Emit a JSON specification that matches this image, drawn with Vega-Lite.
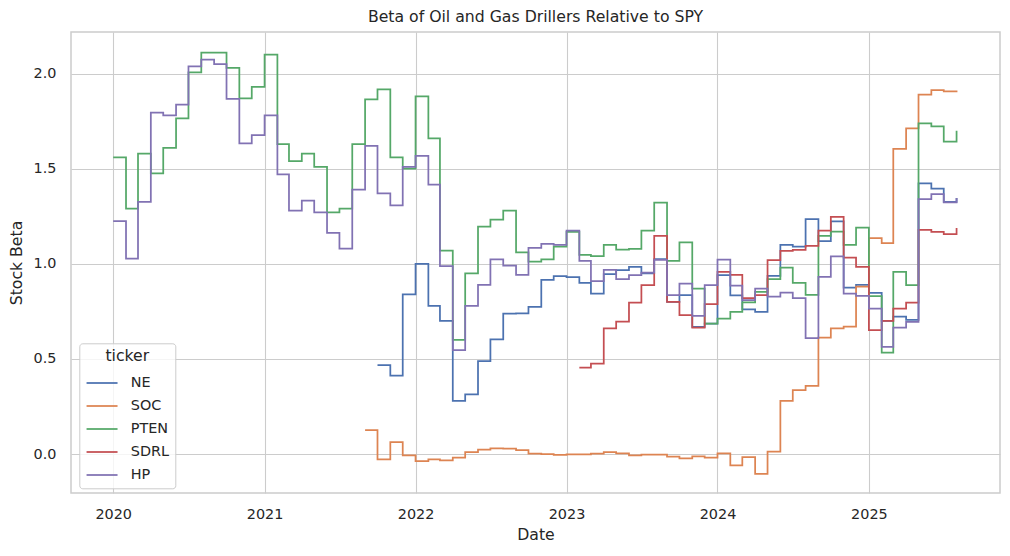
{
  "$schema": "https://vega.github.io/schema/vega-lite/v6.json",
  "width": 929,
  "height": 461,
  "autosize": {"type": "none"},
  "padding": {"left": 71, "top": 32, "right": 10, "bottom": 63},
  "background": "white",
  "title": {"text": "Beta of Oil and Gas Drillers Relative to SPY", "fontSize": 15.7, "fontWeight": "normal", "color": "#262626", "font": "DejaVu Sans", "anchor": "middle", "offset": 6},
  "data": {"values": [
    {"date":"2021-10-01","ticker":"NE","beta":0.467},
    {"date":"2021-11-01","ticker":"NE","beta":0.412},
    {"date":"2021-12-01","ticker":"NE","beta":0.839},
    {"date":"2022-01-01","ticker":"NE","beta":1.0},
    {"date":"2022-02-01","ticker":"NE","beta":0.779},
    {"date":"2022-03-01","ticker":"NE","beta":0.70},
    {"date":"2022-04-01","ticker":"NE","beta":0.279},
    {"date":"2022-05-01","ticker":"NE","beta":0.314},
    {"date":"2022-06-01","ticker":"NE","beta":0.488},
    {"date":"2022-07-01","ticker":"NE","beta":0.603},
    {"date":"2022-08-01","ticker":"NE","beta":0.738},
    {"date":"2022-09-01","ticker":"NE","beta":0.74},
    {"date":"2022-10-01","ticker":"NE","beta":0.774},
    {"date":"2022-11-01","ticker":"NE","beta":0.916},
    {"date":"2022-12-01","ticker":"NE","beta":0.935},
    {"date":"2023-01-01","ticker":"NE","beta":0.93},
    {"date":"2023-02-01","ticker":"NE","beta":0.90},
    {"date":"2023-03-01","ticker":"NE","beta":0.844},
    {"date":"2023-04-01","ticker":"NE","beta":0.946},
    {"date":"2023-05-01","ticker":"NE","beta":0.967},
    {"date":"2023-06-01","ticker":"NE","beta":0.984},
    {"date":"2023-07-01","ticker":"NE","beta":0.95},
    {"date":"2023-08-01","ticker":"NE","beta":1.025},
    {"date":"2023-09-01","ticker":"NE","beta":0.80},
    {"date":"2023-10-01","ticker":"NE","beta":0.835},
    {"date":"2023-11-01","ticker":"NE","beta":0.668},
    {"date":"2023-12-01","ticker":"NE","beta":0.686},
    {"date":"2024-01-01","ticker":"NE","beta":0.94},
    {"date":"2024-02-01","ticker":"NE","beta":0.834},
    {"date":"2024-03-01","ticker":"NE","beta":0.76},
    {"date":"2024-04-01","ticker":"NE","beta":0.747},
    {"date":"2024-05-01","ticker":"NE","beta":0.937},
    {"date":"2024-06-01","ticker":"NE","beta":1.10},
    {"date":"2024-07-01","ticker":"NE","beta":1.09},
    {"date":"2024-08-01","ticker":"NE","beta":1.235},
    {"date":"2024-09-01","ticker":"NE","beta":1.12},
    {"date":"2024-10-01","ticker":"NE","beta":1.223},
    {"date":"2024-11-01","ticker":"NE","beta":0.875},
    {"date":"2024-12-01","ticker":"NE","beta":0.889},
    {"date":"2025-01-01","ticker":"NE","beta":0.847},
    {"date":"2025-02-01","ticker":"NE","beta":0.70},
    {"date":"2025-03-01","ticker":"NE","beta":0.723},
    {"date":"2025-04-01","ticker":"NE","beta":0.705},
    {"date":"2025-05-01","ticker":"NE","beta":1.423},
    {"date":"2025-06-01","ticker":"NE","beta":1.396},
    {"date":"2025-07-01","ticker":"NE","beta":1.326},
    {"date":"2025-08-01","ticker":"NE","beta":1.346},
    {"date":"2021-09-01","ticker":"SOC","beta":0.125},
    {"date":"2021-10-01","ticker":"SOC","beta":-0.028},
    {"date":"2021-11-01","ticker":"SOC","beta":0.063},
    {"date":"2021-12-01","ticker":"SOC","beta":-0.007},
    {"date":"2022-01-01","ticker":"SOC","beta":-0.037},
    {"date":"2022-02-01","ticker":"SOC","beta":-0.028},
    {"date":"2022-03-01","ticker":"SOC","beta":-0.033},
    {"date":"2022-04-01","ticker":"SOC","beta":-0.019},
    {"date":"2022-05-01","ticker":"SOC","beta":0.01},
    {"date":"2022-06-01","ticker":"SOC","beta":0.023},
    {"date":"2022-07-01","ticker":"SOC","beta":0.03},
    {"date":"2022-08-01","ticker":"SOC","beta":0.028},
    {"date":"2022-09-01","ticker":"SOC","beta":0.02},
    {"date":"2022-10-01","ticker":"SOC","beta":0.002},
    {"date":"2022-11-01","ticker":"SOC","beta":0.0},
    {"date":"2022-12-01","ticker":"SOC","beta":-0.005},
    {"date":"2023-01-01","ticker":"SOC","beta":-0.002},
    {"date":"2023-02-01","ticker":"SOC","beta":-0.002},
    {"date":"2023-03-01","ticker":"SOC","beta":0.002},
    {"date":"2023-04-01","ticker":"SOC","beta":0.01},
    {"date":"2023-05-01","ticker":"SOC","beta":0.004},
    {"date":"2023-06-01","ticker":"SOC","beta":-0.007},
    {"date":"2023-07-01","ticker":"SOC","beta":-0.003},
    {"date":"2023-08-01","ticker":"SOC","beta":-0.003},
    {"date":"2023-09-01","ticker":"SOC","beta":-0.014},
    {"date":"2023-10-01","ticker":"SOC","beta":-0.023},
    {"date":"2023-11-01","ticker":"SOC","beta":-0.012},
    {"date":"2023-12-01","ticker":"SOC","beta":-0.019},
    {"date":"2024-01-01","ticker":"SOC","beta":0.004},
    {"date":"2024-02-01","ticker":"SOC","beta":-0.06},
    {"date":"2024-03-01","ticker":"SOC","beta":-0.016},
    {"date":"2024-04-01","ticker":"SOC","beta":-0.104},
    {"date":"2024-05-01","ticker":"SOC","beta":0.012},
    {"date":"2024-06-01","ticker":"SOC","beta":0.28},
    {"date":"2024-07-01","ticker":"SOC","beta":0.336},
    {"date":"2024-08-01","ticker":"SOC","beta":0.358},
    {"date":"2024-09-01","ticker":"SOC","beta":0.612},
    {"date":"2024-10-01","ticker":"SOC","beta":0.66},
    {"date":"2024-11-01","ticker":"SOC","beta":0.67},
    {"date":"2024-12-01","ticker":"SOC","beta":0.88},
    {"date":"2025-01-01","ticker":"SOC","beta":1.135},
    {"date":"2025-02-01","ticker":"SOC","beta":1.109},
    {"date":"2025-03-01","ticker":"SOC","beta":1.604},
    {"date":"2025-04-01","ticker":"SOC","beta":1.712},
    {"date":"2025-05-01","ticker":"SOC","beta":1.89},
    {"date":"2025-06-01","ticker":"SOC","beta":1.914},
    {"date":"2025-07-01","ticker":"SOC","beta":1.907},
    {"date":"2025-08-01","ticker":"SOC","beta":1.912},
    {"date":"2020-01-01","ticker":"PTEN","beta":1.56},
    {"date":"2020-02-01","ticker":"PTEN","beta":1.29},
    {"date":"2020-03-01","ticker":"PTEN","beta":1.58},
    {"date":"2020-04-01","ticker":"PTEN","beta":1.475},
    {"date":"2020-05-01","ticker":"PTEN","beta":1.61},
    {"date":"2020-06-01","ticker":"PTEN","beta":1.765},
    {"date":"2020-07-01","ticker":"PTEN","beta":2.007},
    {"date":"2020-08-01","ticker":"PTEN","beta":2.11},
    {"date":"2020-09-01","ticker":"PTEN","beta":2.11},
    {"date":"2020-10-01","ticker":"PTEN","beta":2.03},
    {"date":"2020-11-01","ticker":"PTEN","beta":1.87},
    {"date":"2020-12-01","ticker":"PTEN","beta":1.93},
    {"date":"2021-01-01","ticker":"PTEN","beta":2.10},
    {"date":"2021-02-01","ticker":"PTEN","beta":1.63},
    {"date":"2021-03-01","ticker":"PTEN","beta":1.54},
    {"date":"2021-04-01","ticker":"PTEN","beta":1.58},
    {"date":"2021-05-01","ticker":"PTEN","beta":1.51},
    {"date":"2021-06-01","ticker":"PTEN","beta":1.27},
    {"date":"2021-07-01","ticker":"PTEN","beta":1.29},
    {"date":"2021-08-01","ticker":"PTEN","beta":1.63},
    {"date":"2021-09-01","ticker":"PTEN","beta":1.865},
    {"date":"2021-10-01","ticker":"PTEN","beta":1.917},
    {"date":"2021-11-01","ticker":"PTEN","beta":1.56},
    {"date":"2021-12-01","ticker":"PTEN","beta":1.50},
    {"date":"2022-01-01","ticker":"PTEN","beta":1.88},
    {"date":"2022-02-01","ticker":"PTEN","beta":1.66},
    {"date":"2022-03-01","ticker":"PTEN","beta":1.07},
    {"date":"2022-04-01","ticker":"PTEN","beta":0.60},
    {"date":"2022-05-01","ticker":"PTEN","beta":0.95},
    {"date":"2022-06-01","ticker":"PTEN","beta":1.195},
    {"date":"2022-07-01","ticker":"PTEN","beta":1.233},
    {"date":"2022-08-01","ticker":"PTEN","beta":1.28},
    {"date":"2022-09-01","ticker":"PTEN","beta":1.06},
    {"date":"2022-10-01","ticker":"PTEN","beta":1.012},
    {"date":"2022-11-01","ticker":"PTEN","beta":1.023},
    {"date":"2022-12-01","ticker":"PTEN","beta":1.09},
    {"date":"2023-01-01","ticker":"PTEN","beta":1.168},
    {"date":"2023-02-01","ticker":"PTEN","beta":1.047},
    {"date":"2023-03-01","ticker":"PTEN","beta":1.04},
    {"date":"2023-04-01","ticker":"PTEN","beta":1.10},
    {"date":"2023-05-01","ticker":"PTEN","beta":1.075},
    {"date":"2023-06-01","ticker":"PTEN","beta":1.078},
    {"date":"2023-07-01","ticker":"PTEN","beta":1.175},
    {"date":"2023-08-01","ticker":"PTEN","beta":1.322},
    {"date":"2023-09-01","ticker":"PTEN","beta":1.016},
    {"date":"2023-10-01","ticker":"PTEN","beta":1.113},
    {"date":"2023-11-01","ticker":"PTEN","beta":0.87},
    {"date":"2023-12-01","ticker":"PTEN","beta":0.686},
    {"date":"2024-01-01","ticker":"PTEN","beta":0.712},
    {"date":"2024-02-01","ticker":"PTEN","beta":0.747},
    {"date":"2024-03-01","ticker":"PTEN","beta":0.797},
    {"date":"2024-04-01","ticker":"PTEN","beta":0.853},
    {"date":"2024-05-01","ticker":"PTEN","beta":0.92},
    {"date":"2024-06-01","ticker":"PTEN","beta":0.98},
    {"date":"2024-07-01","ticker":"PTEN","beta":0.90},
    {"date":"2024-08-01","ticker":"PTEN","beta":0.837},
    {"date":"2024-09-01","ticker":"PTEN","beta":1.147},
    {"date":"2024-10-01","ticker":"PTEN","beta":1.17},
    {"date":"2024-11-01","ticker":"PTEN","beta":1.10},
    {"date":"2024-12-01","ticker":"PTEN","beta":1.19},
    {"date":"2025-01-01","ticker":"PTEN","beta":0.83},
    {"date":"2025-02-01","ticker":"PTEN","beta":0.533},
    {"date":"2025-03-01","ticker":"PTEN","beta":0.958},
    {"date":"2025-04-01","ticker":"PTEN","beta":0.888},
    {"date":"2025-05-01","ticker":"PTEN","beta":1.738},
    {"date":"2025-06-01","ticker":"PTEN","beta":1.723},
    {"date":"2025-07-01","ticker":"PTEN","beta":1.642},
    {"date":"2025-08-01","ticker":"PTEN","beta":1.70},
    {"date":"2023-02-01","ticker":"SDRL","beta":0.454},
    {"date":"2023-03-01","ticker":"SDRL","beta":0.475},
    {"date":"2023-04-01","ticker":"SDRL","beta":0.66},
    {"date":"2023-05-01","ticker":"SDRL","beta":0.696},
    {"date":"2023-06-01","ticker":"SDRL","beta":0.796},
    {"date":"2023-07-01","ticker":"SDRL","beta":0.888},
    {"date":"2023-08-01","ticker":"SDRL","beta":1.147},
    {"date":"2023-09-01","ticker":"SDRL","beta":0.80},
    {"date":"2023-10-01","ticker":"SDRL","beta":0.73},
    {"date":"2023-11-01","ticker":"SDRL","beta":0.665},
    {"date":"2023-12-01","ticker":"SDRL","beta":0.788},
    {"date":"2024-01-01","ticker":"SDRL","beta":0.958},
    {"date":"2024-02-01","ticker":"SDRL","beta":0.942},
    {"date":"2024-03-01","ticker":"SDRL","beta":0.82},
    {"date":"2024-04-01","ticker":"SDRL","beta":0.835},
    {"date":"2024-05-01","ticker":"SDRL","beta":1.02},
    {"date":"2024-06-01","ticker":"SDRL","beta":1.068},
    {"date":"2024-07-01","ticker":"SDRL","beta":1.074},
    {"date":"2024-08-01","ticker":"SDRL","beta":1.095},
    {"date":"2024-09-01","ticker":"SDRL","beta":1.174},
    {"date":"2024-10-01","ticker":"SDRL","beta":1.247},
    {"date":"2024-11-01","ticker":"SDRL","beta":1.033},
    {"date":"2024-12-01","ticker":"SDRL","beta":0.984},
    {"date":"2025-01-01","ticker":"SDRL","beta":0.651},
    {"date":"2025-02-01","ticker":"SDRL","beta":0.70},
    {"date":"2025-03-01","ticker":"SDRL","beta":0.765},
    {"date":"2025-04-01","ticker":"SDRL","beta":0.796},
    {"date":"2025-05-01","ticker":"SDRL","beta":1.179},
    {"date":"2025-06-01","ticker":"SDRL","beta":1.168},
    {"date":"2025-07-01","ticker":"SDRL","beta":1.156},
    {"date":"2025-08-01","ticker":"SDRL","beta":1.188},
    {"date":"2020-01-01","ticker":"HP","beta":1.225},
    {"date":"2020-02-01","ticker":"HP","beta":1.028},
    {"date":"2020-03-01","ticker":"HP","beta":1.326},
    {"date":"2020-04-01","ticker":"HP","beta":1.795},
    {"date":"2020-05-01","ticker":"HP","beta":1.78},
    {"date":"2020-06-01","ticker":"HP","beta":1.837},
    {"date":"2020-07-01","ticker":"HP","beta":2.038},
    {"date":"2020-08-01","ticker":"HP","beta":2.074},
    {"date":"2020-09-01","ticker":"HP","beta":2.05},
    {"date":"2020-10-01","ticker":"HP","beta":1.867},
    {"date":"2020-11-01","ticker":"HP","beta":1.633},
    {"date":"2020-12-01","ticker":"HP","beta":1.677},
    {"date":"2021-01-01","ticker":"HP","beta":1.78},
    {"date":"2021-02-01","ticker":"HP","beta":1.47},
    {"date":"2021-03-01","ticker":"HP","beta":1.28},
    {"date":"2021-04-01","ticker":"HP","beta":1.333},
    {"date":"2021-05-01","ticker":"HP","beta":1.27},
    {"date":"2021-06-01","ticker":"HP","beta":1.163},
    {"date":"2021-07-01","ticker":"HP","beta":1.08},
    {"date":"2021-08-01","ticker":"HP","beta":1.39},
    {"date":"2021-09-01","ticker":"HP","beta":1.62},
    {"date":"2021-10-01","ticker":"HP","beta":1.37},
    {"date":"2021-11-01","ticker":"HP","beta":1.307},
    {"date":"2021-12-01","ticker":"HP","beta":1.51},
    {"date":"2022-01-01","ticker":"HP","beta":1.567},
    {"date":"2022-02-01","ticker":"HP","beta":1.417},
    {"date":"2022-03-01","ticker":"HP","beta":0.988},
    {"date":"2022-04-01","ticker":"HP","beta":0.546},
    {"date":"2022-05-01","ticker":"HP","beta":0.779},
    {"date":"2022-06-01","ticker":"HP","beta":0.89},
    {"date":"2022-07-01","ticker":"HP","beta":1.023},
    {"date":"2022-08-01","ticker":"HP","beta":0.99},
    {"date":"2022-09-01","ticker":"HP","beta":0.942},
    {"date":"2022-10-01","ticker":"HP","beta":1.084},
    {"date":"2022-11-01","ticker":"HP","beta":1.105},
    {"date":"2022-12-01","ticker":"HP","beta":1.10},
    {"date":"2023-01-01","ticker":"HP","beta":1.174},
    {"date":"2023-02-01","ticker":"HP","beta":1.015},
    {"date":"2023-03-01","ticker":"HP","beta":0.909},
    {"date":"2023-04-01","ticker":"HP","beta":0.968},
    {"date":"2023-05-01","ticker":"HP","beta":0.919},
    {"date":"2023-06-01","ticker":"HP","beta":0.94},
    {"date":"2023-07-01","ticker":"HP","beta":0.954},
    {"date":"2023-08-01","ticker":"HP","beta":1.021},
    {"date":"2023-09-01","ticker":"HP","beta":0.835},
    {"date":"2023-10-01","ticker":"HP","beta":0.896},
    {"date":"2023-11-01","ticker":"HP","beta":0.726},
    {"date":"2023-12-01","ticker":"HP","beta":0.888},
    {"date":"2024-01-01","ticker":"HP","beta":1.022},
    {"date":"2024-02-01","ticker":"HP","beta":0.886},
    {"date":"2024-03-01","ticker":"HP","beta":0.809},
    {"date":"2024-04-01","ticker":"HP","beta":0.87},
    {"date":"2024-05-01","ticker":"HP","beta":0.828},
    {"date":"2024-06-01","ticker":"HP","beta":0.849},
    {"date":"2024-07-01","ticker":"HP","beta":0.82},
    {"date":"2024-08-01","ticker":"HP","beta":0.609},
    {"date":"2024-09-01","ticker":"HP","beta":0.932},
    {"date":"2024-10-01","ticker":"HP","beta":1.039},
    {"date":"2024-11-01","ticker":"HP","beta":0.844},
    {"date":"2024-12-01","ticker":"HP","beta":0.832},
    {"date":"2025-01-01","ticker":"HP","beta":0.765},
    {"date":"2025-02-01","ticker":"HP","beta":0.563},
    {"date":"2025-03-01","ticker":"HP","beta":0.665},
    {"date":"2025-04-01","ticker":"HP","beta":0.695},
    {"date":"2025-05-01","ticker":"HP","beta":1.34},
    {"date":"2025-06-01","ticker":"HP","beta":1.367},
    {"date":"2025-07-01","ticker":"HP","beta":1.323},
    {"date":"2025-08-01","ticker":"HP","beta":1.346}
  ]},
  "mark": {"type": "line", "interpolate": "step-after", "strokeWidth": 1.75},
  "encoding": {
    "x": {
      "field": "date", "type": "temporal", "title": "Date",
      "scale": {"type": "utc", "domain": [{"year": 2019, "month": 9, "date": 21, "utc": true}, {"year": 2025, "month": 11, "date": 14, "utc": true}], "nice": false},
      "axis": {"values": [{"year": 2020, "month": 1, "date": 1, "utc": true}, {"year": 2021, "month": 1, "date": 1, "utc": true}, {"year": 2022, "month": 1, "date": 1, "utc": true}, {"year": 2023, "month": 1, "date": 1, "utc": true}, {"year": 2024, "month": 1, "date": 1, "utc": true}, {"year": 2025, "month": 1, "date": 1, "utc": true}], "format": "%Y", "formatType": "utc", "labelPadding": 14, "titlePadding": 7, "labelFlush": false, "labelOverlap": false}
    },
    "y": {
      "field": "beta", "type": "quantitative", "title": "Stock Beta",
      "scale": {"domain": [-0.205, 2.219], "nice": false, "zero": false},
      "axis": {"values": [0, 0.5, 1, 1.5, 2], "format": ".1f", "labelPadding": 15, "titlePadding": 9}
    },
    "color": {
      "field": "ticker", "type": "nominal",
      "scale": {"domain": ["NE", "SOC", "PTEN", "SDRL", "HP"], "range": ["#4C72B0", "#DD8452", "#55A868", "#C44E52", "#8172B3"]},
      "legend": {"title": "ticker", "orient": "none", "legendX": 8.3, "legendY": 311.3, "titleAnchor": "middle", "symbolType": "M-1,0L3,0", "symbolSize": 240, "symbolStrokeWidth": 1.75, "labelOffset": 27.5, "rowPadding": 7, "padding": 6, "titlePadding": 9, "fillColor": "rgba(255,255,255,0.8)", "strokeColor": "#cccccc", "cornerRadius": 3}
    }
  },
  "config": {
    "font": "DejaVu Sans",
    "view": {"stroke": "#cccccc", "strokeWidth": 1.5},
    "axis": {"grid": true, "gridColor": "#cccccc", "gridWidth": 1.1, "domain": false, "ticks": false, "labelFont": "DejaVu Sans", "labelFontSize": 14.4, "labelColor": "#262626", "titleFont": "DejaVu Sans", "titleFontSize": 15.7, "titleFontWeight": "normal", "titleColor": "#262626"},
    "legend": {"labelFont": "DejaVu Sans", "labelFontSize": 14.4, "labelColor": "#262626", "titleFont": "DejaVu Sans", "titleFontSize": 15.7, "titleFontWeight": "normal", "titleColor": "#262626"}
  }
}
